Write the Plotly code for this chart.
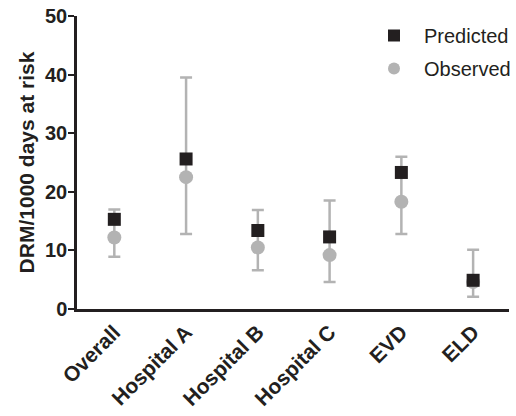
import plotly.graph_objects as go

categories = ["Overall", "Hospital A", "Hospital B", "Hospital C", "EVD", "ELD"]
predicted = [15.3, 25.6, 13.4, 12.3, 23.3, 4.9]
observed = [12.2, 22.5, 10.5, 9.2, 18.3, 4.6]
obs_upper = [17.0, 39.5, 16.9, 18.5, 26.0, 10.1]
obs_lower = [8.9, 12.8, 6.6, 4.6, 12.8, 2.1]
y_ticks = [0, 10, 20, 30, 40, 50]

err_plus = [u - o for u, o in zip(obs_upper, observed)]
err_minus = [o - l for o, l in zip(observed, obs_lower)]

FONT = "Liberation Sans, Arial, sans-serif"
GRAY = "#b3b3b3"
DARK = "#231f20"

fig = go.Figure()
fig.add_trace(go.Scatter(
    x=categories, y=observed, mode="markers", name="Observed",
    legendgroup="obs", legendrank=2,
    marker=dict(symbol="circle", size=14, color=GRAY, line=dict(width=0)),
    error_y=dict(type="data", array=err_plus, arrayminus=err_minus,
                 color=GRAY, thickness=2.5, width=6),
))
fig.add_trace(go.Scatter(
    x=categories, y=predicted, mode="markers", name="Predicted",
    legendgroup="pred", legendrank=1,
    marker=dict(symbol="square", size=13, color=DARK, line=dict(width=0)),
))

fig.update_layout(
    width=516, height=416,
    margin=dict(l=77, r=0, t=16, b=107),
    paper_bgcolor="white", plot_bgcolor="white",
    font=dict(family=FONT, color="#231f20"),
    showlegend=True,
    legend=dict(x=0.665, y=1.0, xanchor="left", yanchor="top",
                font=dict(size=20, family=FONT, color="#231f20"),
                traceorder="grouped", tracegroupgap=4, itemwidth=50,
                bgcolor="rgba(0,0,0,0)", itemsizing="constant"),
    xaxis=dict(
        type="category", range=[-0.52, 5.5],
        showline=True, linecolor=DARK, linewidth=2.5,
        ticks="", showgrid=False, zeroline=False,
        tickangle=-45, automargin=False,
        tickfont=dict(size=21, family=FONT, color=DARK, weight="bold"),
    ),
    yaxis=dict(
        range=[0, 50], tickvals=y_ticks,
        showline=True, linecolor=DARK, linewidth=2.5,
        ticks="outside", ticklen=6, tickwidth=2, tickcolor=DARK,
        ticklabelstandoff=-3,
        showgrid=False, zeroline=False, automargin=False,
        tickfont=dict(size=20, family=FONT, color=DARK, weight="bold"),
        title=dict(text="DRM/1000 days at risk", standoff=5,
                   font=dict(size=21, family=FONT, color=DARK, weight="bold")),
    ),
)

fig.write_html("out.html")
